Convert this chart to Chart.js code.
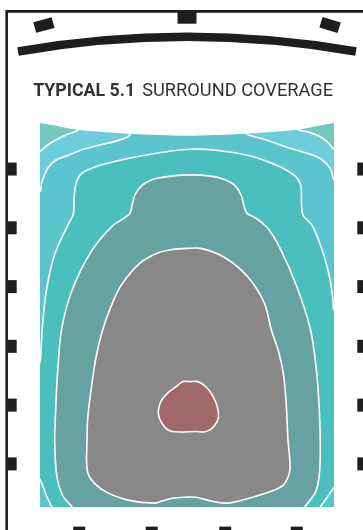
<!DOCTYPE html>
<html>
<head>
<meta charset="utf-8">
<script src="https://cdn.jsdelivr.net/npm/chart.js@4.4.1/dist/chart.umd.min.js"></script>
<style>
  html, body { margin: 0; padding: 0; background: #fff; }
  canvas { display: block; }
</style>
</head>
<body>
<canvas id="coverageChart" width="363" height="530"></canvas>
<script>
// Room grid units: x across the listening area (0..30), y back from the screen (0..39.2)
const roomWidth = 30;
const roomDepth = 39.2;

// top edge of the seating area follows the screen curve
const topEdge = [[-1, 0], [0, 0], [3.9, 0.7], [9, 1.1], [15, 1.3], [21, 1.1], [26.1, 0.7], [30, 0], [31, 0], [31, -3], [-1, -3]];

// coverage zones, outer to inner (contour boundaries)
const zoneNames = ["corner", "outer", "fringe", "good", "very good", "optimal", "sweet spot"];
const zoneColors = ["#72c8c0", "#6dcdda", "#5cc4cd", "#4bbfbe", "#66a2a2", "#888888", "#a06868"];

const cornerZone = [[-1, -1], [31, -1], [31, 40.5], [-1, 40.5]];
const outerZone = [[-0.6, 3.2], [0, 2.9], [0.7, 2.3], [1.5, 1.8], [2.7, 1.2], [3.9, 0.7], [4.1, -0.5],
  [26.0, -0.5], [26.2, 0.6], [27.3, 0.9], [28.4, 1.3], [29.3, 1.9], [30, 2.7], [30.6, 3.0],
  [30.6, 40.5], [-0.6, 40.5]];
const fringeZone = [[-0.6, 7.3], [0, 7.0], [0.2, 6.0], [0.8, 4.6], [1.6, 3.8], [2.6, 3.4], [4.1, 2.8],
  [5.9, 2.3], [7.9, 1.8], [9.2, 1.2], [9.4, -0.5], [20.7, -0.5], [20.9, 1.0], [23.0, 1.7],
  [25.6, 2.6], [27.6, 3.2], [28.7, 3.7], [29.6, 4.6], [30, 5.8], [30.6, 6.1], [30.6, 40.5], [-0.6, 40.5]];
const goodZone = [[-0.6, 25.7], [0, 24.4], [0.1, 23.2], [0.3, 20.1], [0.7, 16.8], [1.5, 13.4], [2.8, 10.5],
  [3.4, 9.3], [3.5, 7.4], [3.7, 6.1], [4.3, 5.1], [5.6, 4.5], [6.9, 4.1], [10.7, 3.3], [14.8, 2.7],
  [18.2, 2.8], [21.6, 3.4], [24.3, 4.4], [26.0, 5.4], [26.6, 6.4], [26.8, 9.3], [27.8, 10.5],
  [28.9, 13.3], [29.6, 16.0], [29.9, 18.1], [30, 19.1], [30.6, 19.5], [30.6, 36.6], [30.1, 37.1],
  [29.3, 38.2], [28.6, 39.2], [28.2, 39.8], [1.6, 39.8], [1.2, 39.2], [0.6, 37.9], [0, 36.4], [-0.6, 36.0]];
const veryGoodZone = [[3.3, 39.2], [2.3, 38.0], [1.7, 35.9], [1.5, 32.3], [1.6, 29.3], [1.8, 25.4],
  [2.2, 21.1], [3.3, 17.0], [5.3, 13.0], [7.4, 10.5], [8.6, 9.7], [9.2, 9.2], [9.4, 8.4], [9.7, 7.3],
  [10.4, 6.4], [11.4, 5.8], [12.8, 5.5], [15.0, 5.3], [17.3, 5.4], [18.9, 5.8], [19.9, 6.4],
  [20.5, 7.3], [20.8, 8.4], [21.1, 9.2], [22.0, 9.7], [23.2, 10.7], [24.5, 12.8], [26.2, 16.7],
  [27.6, 21.1], [28.2, 25.2], [28.5, 29.3], [28.6, 33.0], [28.5, 35.9], [28.1, 37.7], [27.0, 39.2],
  [26.5, 39.9], [3.8, 39.9]];
const optimalZone = [[15.0, 12.8], [16.4, 12.8], [18.8, 13.7], [21.2, 15.7], [22.9, 18.4], [23.6, 21.1],
  [24.3, 23.2], [24.8, 25.4], [25.1, 28.3], [25.3, 32.3], [25.5, 35.4], [24.8, 37.0], [22.7, 37.9],
  [19.2, 38.8], [17.1, 38.5], [15.9, 38.2], [14.8, 38.2], [13.5, 38.3], [12.4, 38.6], [11.7, 38.8],
  [9.0, 38.5], [6.3, 37.4], [4.9, 35.8], [4.8, 32.3], [4.9, 29.8], [5.5, 25.2], [5.8, 23.5],
  [6.4, 21.1], [7.1, 19.1], [8.2, 16.7], [10.2, 14.3], [12.2, 13.2], [13.6, 12.9], [15.0, 12.8]];
const sweetSpotZone = [[15.3, 26.4], [16.1, 26.4], [16.9, 26.9], [17.6, 27.8], [18.1, 29.0], [18.2, 30.1],
  [17.8, 30.9], [17.0, 31.5], [15.9, 31.5], [13.5, 31.5], [12.7, 31.0], [12.1, 29.8], [12.3, 28.5],
  [13.0, 27.6], [13.9, 26.9], [14.6, 26.4], [15.3, 26.4]];

const zoneShapes = [cornerZone, outerZone, fringeZone, goodZone, veryGoodZone, optimalZone, sweetSpotZone];

// room furniture (same grid units)
const frameLeft = -3.4, frameRight = 33.4, frameTop = -11.4;
const sideSpeakerY = [4.7, 10.7, 16.7, 22.8, 28.8, 34.8];
const rearSpeakerX = [4.0, 11.4, 18.9, 26.2];
const rearSpeakerTop = 41.2;
const frontSpeakerX = [0.4, 15, 29.6];
const frontSpeakerY = [-10.0, -10.8, -10.0];
const frontSpeakerAngle = [-15, 0, 17];
const screenX = [-2.24, 32.24];
const screenEdgeY = -7.3, screenMidY = -8.8;

const titleBold = "TYPICAL 5.1";
const titleRest = "SURROUND COVERAGE";
const titleX = -0.7, titleY = -2.8;

const toPoints = arr => arr.map(p => ({ x: p[0], y: p[1] }));

const datasets = zoneShapes.map((shape, i) => ({
    label: zoneNames[i],
    data: toPoints(shape),
    showLine: true,
    fill: "shape",
    backgroundColor: zoneColors[i],
    borderColor: i === 0 ? "rgba(0,0,0,0)" : "#ffffff",
    borderWidth: i === 0 ? 0 : 1.6,
    tension: i === 0 ? 0 : 0.3,
    pointRadius: 0,
    clip: 0,
    order: zoneShapes.length + 1 - i
}));

// white cut-out above the curved front edge
datasets.push({
    label: "front edge",
    data: toPoints(topEdge),
    showLine: true,
    fill: "shape",
    backgroundColor: "#ffffff",
    borderWidth: 0,
    borderColor: "rgba(0,0,0,0)",
    tension: 0.3,
    pointRadius: 0,
    clip: 0,
    order: 0
});

function fitText(ctx, font, text, x, y, width) {
    ctx.font = font;
    const w = ctx.measureText(text).width;
    ctx.save();
    ctx.translate(x, y);
    ctx.scale(width / w, 1);
    ctx.fillText(text, 0, 0);
    ctx.restore();
}

const roomDecor = {
    id: "roomDecor",
    afterDraw(chart) {
        const { ctx } = chart;
        const sx = chart.scales.x, sy = chart.scales.y;
        const px = v => sx.getPixelForValue(v);
        const py = v => sy.getPixelForValue(v);
        ctx.save();
        ctx.fillStyle = "#1e1e1e";
        ctx.strokeStyle = "#1e1e1e";

        // walls
        ctx.lineWidth = 2.6;
        ctx.beginPath();
        ctx.moveTo(px(frameLeft), chart.height + 5);
        ctx.lineTo(px(frameLeft), py(frameTop));
        ctx.lineTo(px(frameRight), py(frameTop));
        ctx.lineTo(px(frameRight), chart.height + 5);
        ctx.stroke();

        // side and rear surrounds
        sideSpeakerY.forEach(d => {
            ctx.fillRect(px(frameLeft), py(d) - 6.5, 10, 13);
            ctx.fillRect(px(frameRight) - 10, py(d) - 6.5, 10, 13);
        });
        rearSpeakerX.forEach(r => ctx.fillRect(px(r) - 6, py(rearSpeakerTop), 12, 13));

        // front L / C / R
        frontSpeakerX.forEach((fx, i) => {
            ctx.save();
            ctx.translate(px(fx), py(frontSpeakerY[i]));
            ctx.rotate(frontSpeakerAngle[i] * Math.PI / 180);
            if (i === 1) ctx.fillRect(-9.5, -6.5, 19, 13);
            else ctx.fillRect(-9.5, -5.5, 19, 11);
            ctx.restore();
        });

        // screen
        const x0 = px(screenX[0]), x1 = px(screenX[1]);
        const ye = py(screenEdgeY), ym = py(screenMidY);
        ctx.lineWidth = 8.5;
        ctx.lineCap = "butt";
        ctx.beginPath();
        ctx.moveTo(x0, ye);
        ctx.quadraticCurveTo((x0 + x1) / 2, 2 * ym - ye, x1, ye);
        ctx.stroke();

        // title
        ctx.fillStyle = "#333333";
        ctx.textBaseline = "alphabetic";
        const tx = px(titleX), ty = py(titleY);
        fitText(ctx, "bold 18.5px Roboto", titleBold, tx, ty, 102);
        fitText(ctx, "18.5px Roboto", titleRest, tx + 109, ty, 191);
        ctx.restore();
    }
};

new Chart(document.getElementById("coverageChart").getContext("2d"), {
    type: "scatter",
    data: { datasets: datasets },
    options: {
        responsive: false,
        animation: false,
        events: [],
        layout: { padding: { left: 40, right: 29, top: 123, bottom: 23 } },
        elements: { line: { capBezierPoints: false } },
        scales: {
            x: { type: "linear", min: 0, max: roomWidth, display: false },
            y: { type: "linear", min: 0, max: roomDepth, reverse: true, display: false }
        },
        plugins: {
            legend: { display: false },
            tooltip: { enabled: false },
            title: { display: false }
        }
    },
    plugins: [roomDecor]
});
</script>
</body>
</html>
